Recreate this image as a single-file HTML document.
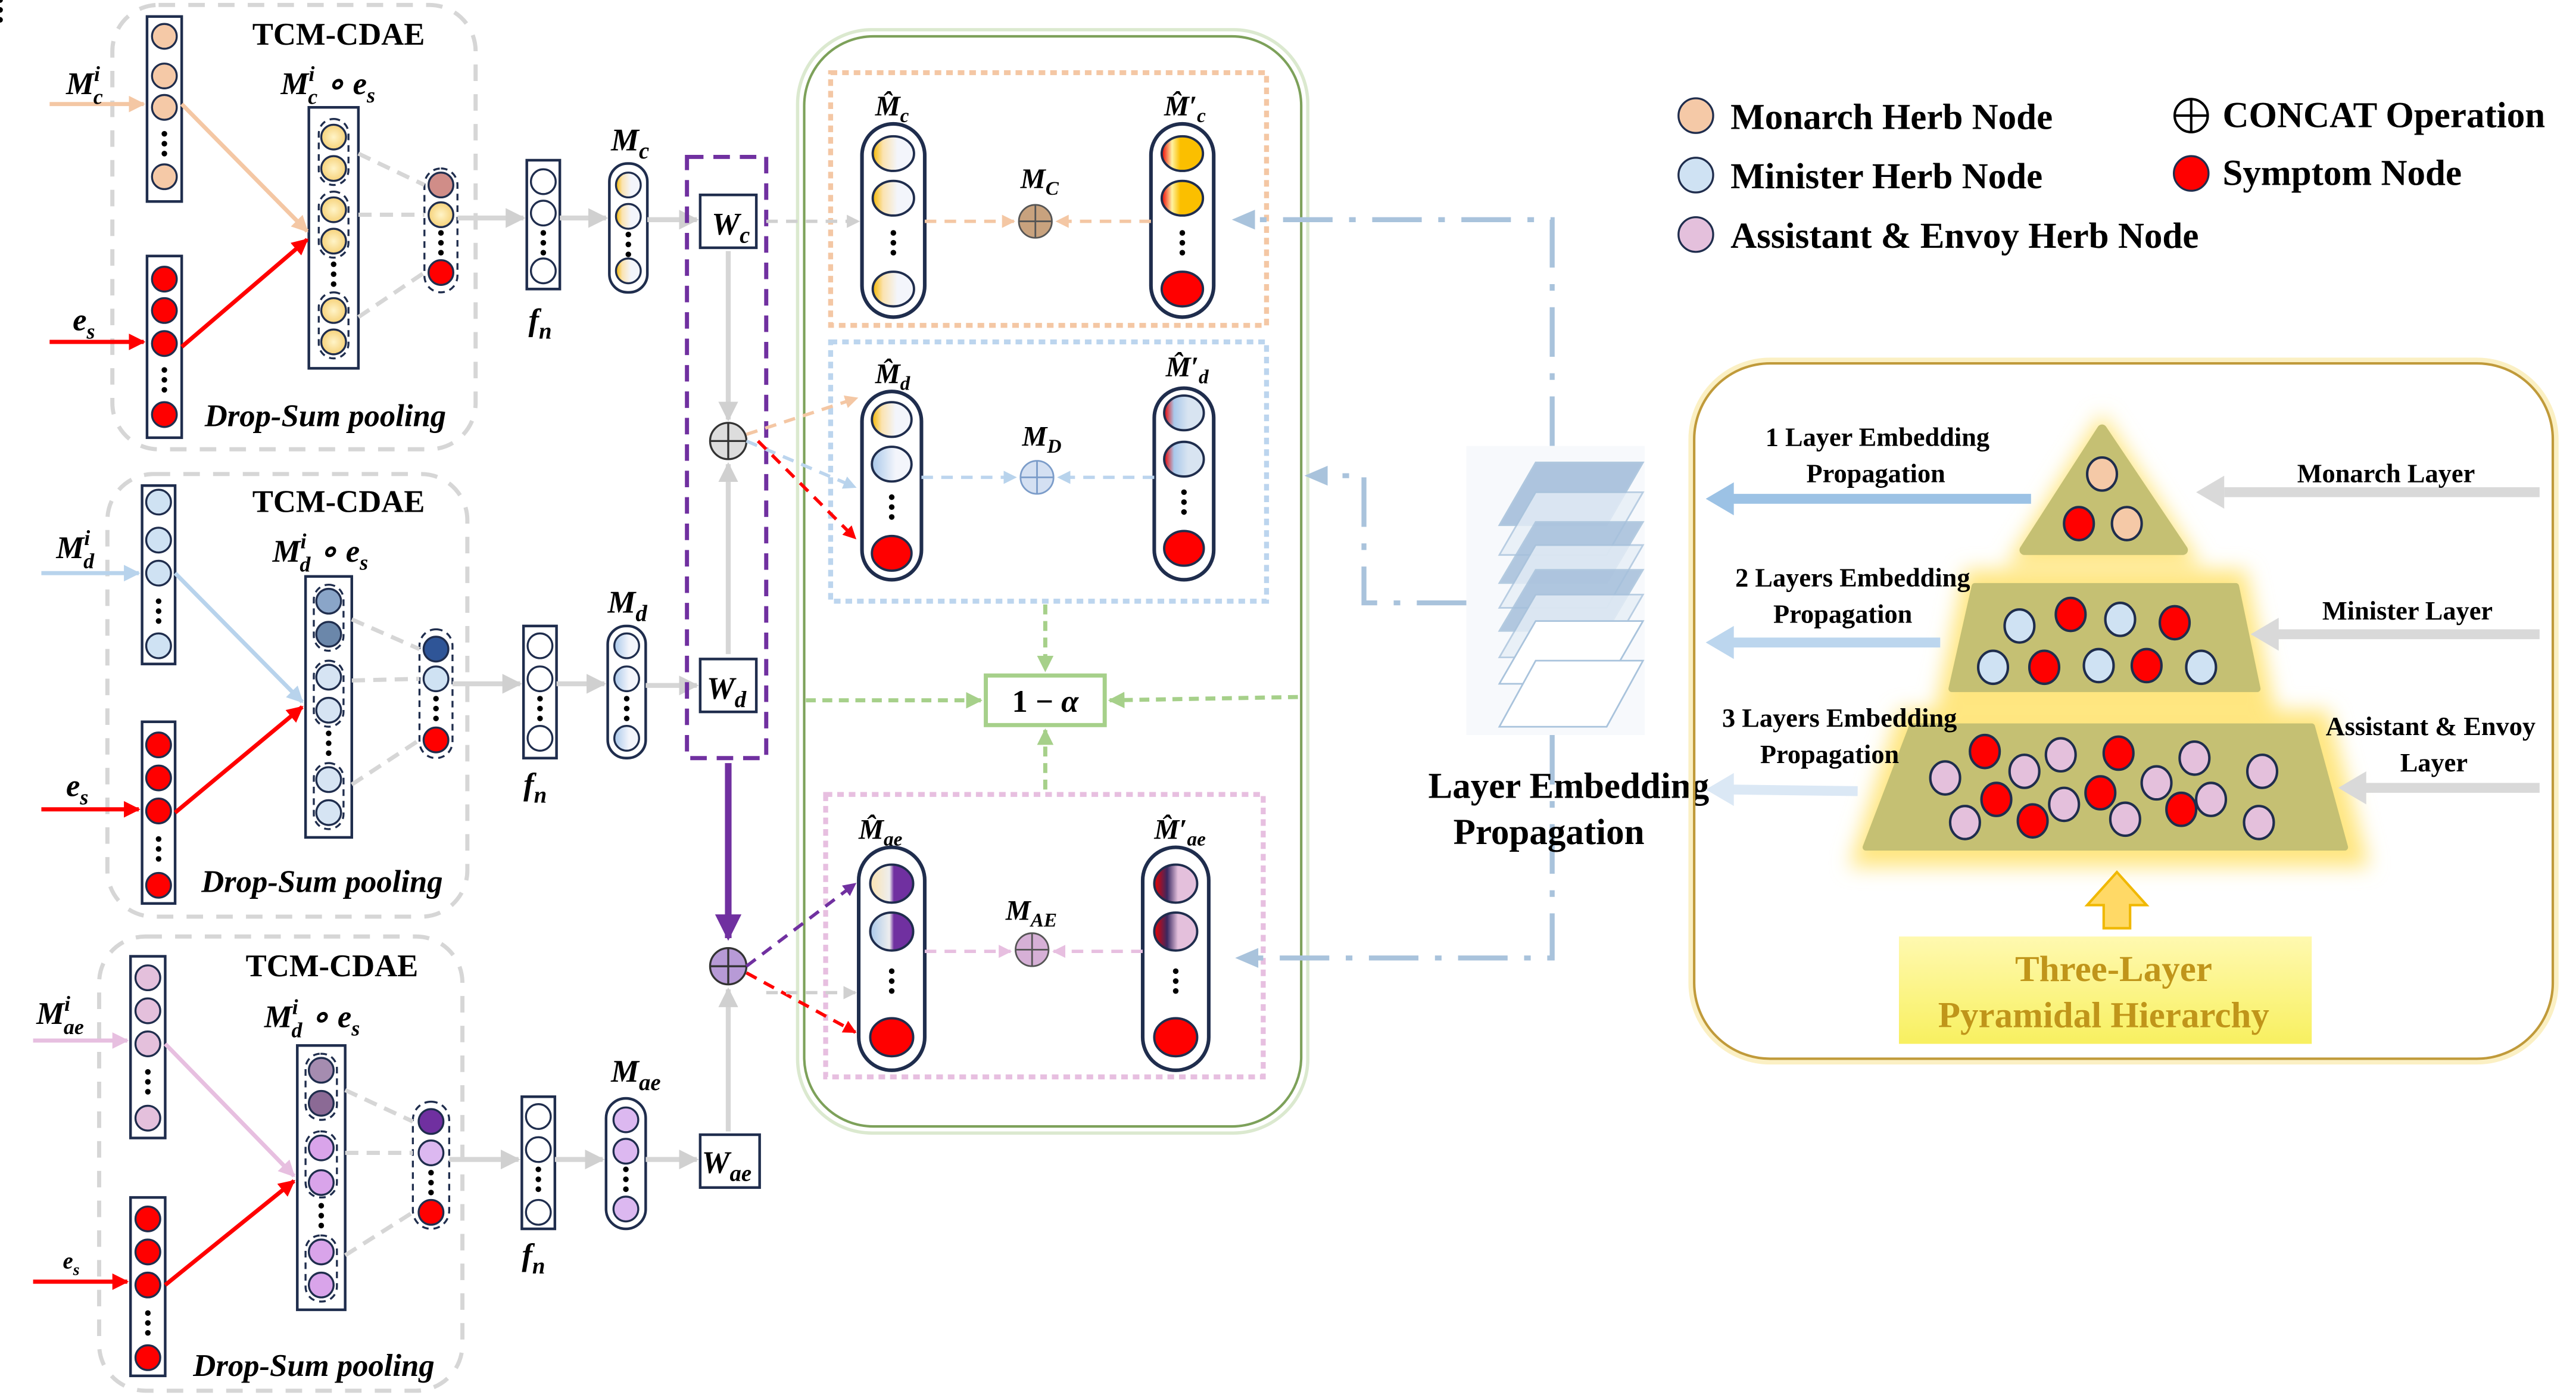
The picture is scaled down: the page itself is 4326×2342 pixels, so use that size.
<!DOCTYPE html>
<html><head><meta charset="utf-8"><style>
html,body{margin:0;padding:0;background:#fff;}
svg{display:block;}
text{font-family:"Liberation Serif",serif;font-weight:bold;}
.it{font-style:italic;}
</style></head><body>
<svg width="4326" height="2342" viewBox="0 0 1560 844.6" xmlns="http://www.w3.org/2000/svg">
<defs>
<linearGradient id="gy" x1="0" x2="1"><stop offset="0" stop-color="#f5b800"/><stop offset="0.25" stop-color="#fbe3b0"/><stop offset="0.6" stop-color="#f3f5fb"/></linearGradient>
<linearGradient id="gb" x1="0" x2="1"><stop offset="0" stop-color="#a9c8ea"/><stop offset="0.6" stop-color="#f3f5fb"/></linearGradient>
<linearGradient id="go" x1="0" x2="1"><stop offset="0" stop-color="#e00"/><stop offset="0.25" stop-color="#fff2a0"/><stop offset="0.45" stop-color="#fbbf00"/></linearGradient>
<linearGradient id="gbr" x1="0" x2="1"><stop offset="0" stop-color="#e00"/><stop offset="0.25" stop-color="#a9c8ea"/><stop offset="0.6" stop-color="#d8e4f1"/></linearGradient>
<linearGradient id="gpy" x1="0" x2="1"><stop offset="0" stop-color="#fbe3b0"/><stop offset="0.45" stop-color="#eee"/><stop offset="0.55" stop-color="#7030a0"/></linearGradient>
<linearGradient id="gpb" x1="0" x2="1"><stop offset="0" stop-color="#a9c8ea"/><stop offset="0.45" stop-color="#eee"/><stop offset="0.55" stop-color="#7030a0"/></linearGradient>
<linearGradient id="gpr" x1="0" x2="1"><stop offset="0" stop-color="#e00"/><stop offset="0.3" stop-color="#3a2860"/><stop offset="0.55" stop-color="#e4c0dc"/></linearGradient>
<radialGradient id="ry"><stop offset="0" stop-color="#fff4c8"/><stop offset="1" stop-color="#f6d27a"/></radialGradient>
<linearGradient id="gt" x1="0" y1="0" x2="0" y2="1"><stop offset="0" stop-color="#fff9b0"/><stop offset="1" stop-color="#f8f060"/></linearGradient>
<filter id="glow" x="-20%" y="-20%" width="140%" height="140%"><feGaussianBlur stdDeviation="6"/></filter>
<marker id="ag" viewBox="0 0 10 10" refX="9" refY="5" markerWidth="4" markerHeight="4" orient="auto"><path d="M0,0L10,5L0,10z" fill="#d0d0d0"/></marker>
<marker id="ap" viewBox="0 0 10 10" refX="9" refY="5" markerWidth="4" markerHeight="4" orient="auto"><path d="M0,0L10,5L0,10z" fill="#f4c7a4"/></marker>
<marker id="ar" viewBox="0 0 10 10" refX="9" refY="5" markerWidth="4" markerHeight="4" orient="auto"><path d="M0,0L10,5L0,10z" fill="#f00"/></marker>
<marker id="ab" viewBox="0 0 10 10" refX="9" refY="5" markerWidth="4" markerHeight="4" orient="auto"><path d="M0,0L10,5L0,10z" fill="#b8d3ec"/></marker>
<marker id="apk" viewBox="0 0 10 10" refX="9" refY="5" markerWidth="4" markerHeight="4" orient="auto"><path d="M0,0L10,5L0,10z" fill="#e7bfe0"/></marker>
<marker id="agr" viewBox="0 0 10 10" refX="9" refY="5" markerWidth="4" markerHeight="4" orient="auto"><path d="M0,0L10,5L0,10z" fill="#a6d08a"/></marker>
<marker id="apu" viewBox="0 0 10 10" refX="9" refY="5" markerWidth="4" markerHeight="4" orient="auto"><path d="M0,0L10,5L0,10z" fill="#7030a0"/></marker>
</defs>

<g fill="none" stroke="#d6d6d6" stroke-width="2.5" stroke-dasharray="10,8">
<rect x="68" y="3" width="220" height="269" rx="28"/>
<rect x="65" y="287" width="218" height="268" rx="28"/>
<rect x="60" y="567" width="220" height="275" rx="28"/>
</g>
<g font-size="19" text-anchor="middle">
<text x="205" y="27">TCM-CDAE</text>
<text x="205" y="310">TCM-CDAE</text>
<text x="201" y="591">TCM-CDAE</text>
</g>
<g font-size="19" text-anchor="middle">
<text x="197" y="258" class="it">Drop-Sum pooling</text>
<text x="195" y="540" class="it">Drop-Sum pooling</text>
<text x="190" y="833" class="it">Drop-Sum pooling</text>
</g>

<g stroke="#1f2d4d" stroke-width="1.6">
<rect x="89" y="10" width="21" height="112" fill="#fff"/>
<rect x="89" y="155" width="21" height="110" fill="#fff"/>
<rect x="187" y="65" width="30" height="158" fill="#fff"/>
<rect x="319" y="97" width="20" height="78" fill="#fff"/>
<rect x="369" y="99" width="23" height="78" rx="11" fill="#fff"/>
<rect x="424" y="118" width="34" height="32" fill="#fff"/>
</g>
<g stroke="#1f2d4d" stroke-width="1.2">
<g fill="#f5c9a7"><circle cx="99.5" cy="22" r="7.5"/><circle cx="99.5" cy="46" r="7.5"/><circle cx="99.5" cy="65" r="7.5"/><circle cx="99.5" cy="107" r="7.5"/></g>
<g fill="#f00"><circle cx="99.5" cy="169" r="7.5"/><circle cx="99.5" cy="188" r="7.5"/><circle cx="99.5" cy="208" r="7.5"/><circle cx="99.5" cy="251" r="7.5"/></g>
<g fill="url(#ry)"><circle cx="202" cy="83" r="7.5"/><circle cx="202" cy="102" r="7.5"/><circle cx="202" cy="127" r="7.5"/><circle cx="202" cy="146" r="7.5"/><circle cx="202" cy="188" r="7.5"/><circle cx="202" cy="207" r="7.5"/></g>
<g fill="#fff"><circle cx="329" cy="110" r="7.5"/><circle cx="329" cy="129" r="7.5"/><circle cx="329" cy="164" r="7.5"/></g>
<g fill="url(#gy)"><circle cx="380.5" cy="112" r="7.5"/><circle cx="380.5" cy="131" r="7.5"/><circle cx="380.5" cy="164" r="7.5"/></g>
<circle cx="267" cy="112" r="7.5" fill="#d08d88"/><circle cx="267" cy="130" r="7.5" fill="url(#ry)"/><circle cx="267" cy="165" r="7.5" fill="#f00"/>
</g>
<g fill="none" stroke="#1f2d4d" stroke-width="1.2" stroke-dasharray="4,3">
<rect x="193" y="72" width="18" height="40" rx="9"/><rect x="193" y="116" width="18" height="40" rx="9"/><rect x="193" y="177" width="18" height="40" rx="9"/>
<rect x="257" y="102" width="20" height="75" rx="10"/>
</g>

<g stroke="#1f2d4d" stroke-width="1.6">
<rect x="86" y="294" width="20" height="108" fill="#fff"/>
<rect x="86" y="437" width="20" height="110" fill="#fff"/>
<rect x="185" y="349" width="28" height="158" fill="#fff"/>
<rect x="317" y="379" width="20" height="80" fill="#fff"/>
<rect x="368" y="379" width="23" height="80" rx="11" fill="#fff"/>
<rect x="424" y="399" width="34" height="32" fill="#fff"/>
</g>
<g stroke="#1f2d4d" stroke-width="1.2">
<g fill="#cfe2f3"><circle cx="96" cy="304" r="7.5"/><circle cx="96" cy="327" r="7.5"/><circle cx="96" cy="347" r="7.5"/><circle cx="96" cy="391" r="7.5"/></g>
<g fill="#f00"><circle cx="96" cy="451" r="7.5"/><circle cx="96" cy="471" r="7.5"/><circle cx="96" cy="491" r="7.5"/><circle cx="96" cy="536" r="7.5"/></g>
<circle cx="199" cy="364" r="7.5" fill="#8aa5c8"/><circle cx="199" cy="384" r="7.5" fill="#6b87aa"/>
<g fill="#d6e4f3"><circle cx="199" cy="410" r="7.5"/><circle cx="199" cy="430" r="7.5"/><circle cx="199" cy="472" r="7.5"/><circle cx="199" cy="492" r="7.5"/></g>
<g fill="#fff"><circle cx="327" cy="391" r="7.5"/><circle cx="327" cy="411" r="7.5"/><circle cx="327" cy="447" r="7.5"/></g>
<g fill="url(#gb)"><circle cx="379.5" cy="391" r="7.5"/><circle cx="379.5" cy="411" r="7.5"/><circle cx="379.5" cy="447" r="7.5"/></g>
<circle cx="264" cy="393" r="7.5" fill="#2f5597"/><circle cx="264" cy="411" r="7.5" fill="#cfe2f3"/><circle cx="264" cy="448" r="7.5" fill="#f00"/>
</g>
<g fill="none" stroke="#1f2d4d" stroke-width="1.2" stroke-dasharray="4,3">
<rect x="190" y="354" width="18" height="40" rx="9"/><rect x="190" y="400" width="18" height="40" rx="9"/><rect x="190" y="462" width="18" height="40" rx="9"/>
<rect x="254" y="381" width="20" height="78" rx="10"/>
</g>

<g stroke="#1f2d4d" stroke-width="1.6">
<rect x="79" y="579" width="21" height="110" fill="#fff"/>
<rect x="79" y="725" width="21" height="108" fill="#fff"/>
<rect x="180" y="633" width="29" height="160" fill="#fff"/>
<rect x="316" y="664" width="20" height="80" fill="#fff"/>
<rect x="367" y="665" width="24" height="79" rx="12" fill="#fff"/>
<rect x="424" y="687" width="36" height="32" fill="#fff"/>
</g>
<g stroke="#1f2d4d" stroke-width="1.2">
<g fill="#e4c0dc"><circle cx="89.5" cy="592" r="7.5"/><circle cx="89.5" cy="612" r="7.5"/><circle cx="89.5" cy="632" r="7.5"/><circle cx="89.5" cy="677" r="7.5"/></g>
<g fill="#f00"><circle cx="89.5" cy="738" r="7.5"/><circle cx="89.5" cy="758" r="7.5"/><circle cx="89.5" cy="778" r="7.5"/><circle cx="89.5" cy="822" r="7.5"/></g>
<circle cx="194.5" cy="648" r="7.5" fill="#a58cb0"/><circle cx="194.5" cy="668" r="7.5" fill="#8b6a95"/>
<g fill="#d9a4ea"><circle cx="194.5" cy="695" r="7.5"/><circle cx="194.5" cy="716" r="7.5"/><circle cx="194.5" cy="758" r="7.5"/><circle cx="194.5" cy="778" r="7.5"/></g>
<g fill="#fff"><circle cx="326" cy="676" r="7.5"/><circle cx="326" cy="696" r="7.5"/><circle cx="326" cy="734" r="7.5"/></g>
<g fill="#dcb8f0"><circle cx="379" cy="678" r="7.5"/><circle cx="379" cy="697" r="7.5"/><circle cx="379" cy="732" r="7.5"/></g>
<circle cx="261" cy="679" r="7.5" fill="#7030a0"/><circle cx="261" cy="698" r="7.5" fill="#dcb8f0"/><circle cx="261" cy="734" r="7.5" fill="#f00"/>
</g>
<g fill="none" stroke="#1f2d4d" stroke-width="1.2" stroke-dasharray="4,3">
<rect x="185" y="638" width="19" height="40" rx="9"/><rect x="185" y="685" width="19" height="40" rx="9"/><rect x="185" y="748" width="19" height="40" rx="9"/>
<rect x="250" y="667" width="22" height="77" rx="11"/>
</g>

<g fill="#000">
<g id="d3"><circle cx="0" cy="0" r="1.7"/><circle cx="0" cy="6" r="1.7"/><circle cx="0" cy="12" r="1.7"/></g>
</g>
<g fill="#000">
<use href="#d3" x="99.5" y="81"/><use href="#d3" x="99.5" y="224"/><use href="#d3" x="202" y="160"/><use href="#d3" x="267" y="141"/><use href="#d3" x="329" y="141"/><use href="#d3" x="380.5" y="142"/>
<use href="#d3" x="96" y="364"/><use href="#d3" x="96" y="508"/><use href="#d3" x="199" y="444"/><use href="#d3" x="264" y="423"/><use href="#d3" x="327" y="423"/><use href="#d3" x="379.5" y="423"/>
<use href="#d3" x="89.5" y="649"/><use href="#d3" x="89.5" y="795"/><use href="#d3" x="194.5" y="730"/><use href="#d3" x="261" y="710"/><use href="#d3" x="326" y="708"/><use href="#d3" x="379" y="708"/>
</g>

<g stroke-width="2.5" fill="none">
<line x1="30" y1="63" x2="87" y2="63" stroke="#f4c7a4" marker-end="url(#ap)"/>
<line x1="110" y1="63" x2="186" y2="140" stroke="#f4c7a4" marker-end="url(#ap)"/>
<line x1="30" y1="207" x2="87" y2="207" stroke="#f00" marker-end="url(#ar)"/>
<line x1="110" y1="210" x2="186" y2="145" stroke="#f00" marker-end="url(#ar)"/>
<line x1="25" y1="347" x2="84" y2="347" stroke="#b8d3ec" marker-end="url(#ab)"/>
<line x1="106" y1="347" x2="183" y2="425" stroke="#b8d3ec" marker-end="url(#ab)"/>
<line x1="25" y1="490" x2="84" y2="490" stroke="#f00" marker-end="url(#ar)"/>
<line x1="106" y1="492" x2="183" y2="428" stroke="#f00" marker-end="url(#ar)"/>
<line x1="20" y1="630" x2="77" y2="630" stroke="#e7bfe0" marker-end="url(#apk)"/>
<line x1="100" y1="632" x2="178" y2="712" stroke="#e7bfe0" marker-end="url(#apk)"/>
<line x1="20" y1="776" x2="77" y2="776" stroke="#f00" marker-end="url(#ar)"/>
<line x1="100" y1="778" x2="178" y2="715" stroke="#f00" marker-end="url(#ar)"/>
</g>
<g stroke="#d6d6d6" stroke-width="2.5" stroke-dasharray="8,5" fill="none">
<line x1="217" y1="93" x2="257" y2="112"/><line x1="217" y1="130" x2="257" y2="130"/><line x1="217" y1="192" x2="257" y2="165"/>
<line x1="213" y1="375" x2="254" y2="393"/><line x1="213" y1="412" x2="254" y2="411"/><line x1="213" y1="475" x2="254" y2="448"/>
<line x1="209" y1="660" x2="250" y2="679"/><line x1="209" y1="698" x2="250" y2="698"/><line x1="209" y1="760" x2="250" y2="734"/>
</g>
<g stroke="#d6d6d6" stroke-width="3" fill="none">
<line x1="277" y1="132" x2="317" y2="132" marker-end="url(#ag)"/><line x1="339" y1="132" x2="367" y2="132" marker-end="url(#ag)"/><line x1="392" y1="133" x2="422" y2="133" marker-end="url(#ag)"/>
<line x1="274" y1="414" x2="315" y2="414" marker-end="url(#ag)"/><line x1="337" y1="414" x2="366" y2="414" marker-end="url(#ag)"/><line x1="391" y1="415" x2="422" y2="415" marker-end="url(#ag)"/>
<line x1="272" y1="702" x2="314" y2="702" marker-end="url(#ag)"/><line x1="336" y1="702" x2="365" y2="702" marker-end="url(#ag)"/><line x1="391" y1="702" x2="422" y2="702" marker-end="url(#ag)"/>
<line x1="441" y1="152" x2="441" y2="254" marker-end="url(#ag)"/>
<line x1="441" y1="396" x2="441" y2="281" marker-end="url(#ag)"/>
<line x1="441" y1="685" x2="441" y2="599" marker-end="url(#ag)"/>
</g>

<g font-size="19">
<text x="40" y="57" class="it">M<tspan font-size="13" dy="-8">i</tspan><tspan font-size="13" dx="-4" dy="14">c</tspan></text>
<text x="44" y="200" class="it">e<tspan font-size="13" dy="5">s</tspan></text>
<text x="170" y="57" class="it">M<tspan font-size="13" dy="-8">i</tspan><tspan font-size="13" dx="-4" dy="14">c</tspan><tspan dy="-6"> ∘ e</tspan><tspan font-size="13" dy="5">s</tspan></text>
<text x="370" y="91" class="it">M<tspan font-size="14" dy="5">c</tspan></text>
<text x="320" y="200" class="it">f<tspan font-size="14" dy="5">n</tspan></text>
<text x="431" y="142" class="it">W<tspan font-size="14" dy="5">c</tspan></text>
<text x="34" y="338" class="it">M<tspan font-size="13" dy="-8">i</tspan><tspan font-size="13" dx="-4" dy="14">d</tspan></text>
<text x="40" y="482" class="it">e<tspan font-size="13" dy="5">s</tspan></text>
<text x="165" y="340" class="it">M<tspan font-size="13" dy="-8">i</tspan><tspan font-size="13" dx="-4" dy="14">d</tspan><tspan dy="-6"> ∘ e</tspan><tspan font-size="13" dy="5">s</tspan></text>
<text x="368" y="371" class="it">M<tspan font-size="14" dy="5">d</tspan></text>
<text x="317" y="481" class="it">f<tspan font-size="14" dy="5">n</tspan></text>
<text x="428" y="423" class="it">W<tspan font-size="14" dy="5">d</tspan></text>
<text x="22" y="620" class="it">M<tspan font-size="13" dy="-8">i</tspan><tspan font-size="13" dx="-4" dy="14">ae</tspan></text>
<text x="38" y="768" font-size="14" class="it">e<tspan font-size="10" dy="4">s</tspan></text>
<text x="160" y="622" class="it">M<tspan font-size="13" dy="-8">i</tspan><tspan font-size="13" dx="-4" dy="14">d</tspan><tspan dy="-6"> ∘ e</tspan><tspan font-size="13" dy="5">s</tspan></text>
<text x="370" y="655" class="it">M<tspan font-size="14" dy="5">ae</tspan></text>
<text x="316" y="766" class="it">f<tspan font-size="14" dy="5">n</tspan></text>
<text x="425" y="710" class="it">W<tspan font-size="14" dy="5">ae</tspan></text>
</g>

<rect x="416" y="95" width="48" height="364" fill="none" stroke="#7030a0" stroke-width="2.5" stroke-dasharray="10,6"/>
<line x1="441" y1="462" x2="441" y2="568" stroke="#7030a0" stroke-width="4" marker-end="url(#apu)"/>
<g stroke="#333" stroke-width="1.2">
<circle cx="441" cy="267" r="11" fill="#ddd"/><line x1="430" y1="267" x2="452" y2="267"/><line x1="441" y1="256" x2="441" y2="278"/>
<circle cx="441" cy="585" r="11" fill="#b79ad6"/><line x1="430" y1="585" x2="452" y2="585"/><line x1="441" y1="574" x2="441" y2="596"/>
</g>

<rect x="483" y="18" width="309" height="668" rx="45" fill="none" stroke="#dbe9cf" stroke-width="2"/>
<rect x="487" y="22" width="301" height="660" rx="42" fill="none" stroke="#7da15a" stroke-width="1.5"/>

<rect x="503" y="44" width="264" height="153" fill="none" stroke="#f4c7a4" stroke-width="3" stroke-dasharray="4,3"/>
<rect x="503" y="207" width="264" height="157" fill="none" stroke="#bcd5ee" stroke-width="3" stroke-dasharray="4,3"/>
<rect x="500" y="481" width="265" height="171" fill="none" stroke="#e7bfe0" stroke-width="3" stroke-dasharray="4,3"/>

<g stroke="#1f2d4d" stroke-width="2.2" fill="#fff">
<rect x="522" y="75" width="38" height="117" rx="19"/><rect x="697" y="75" width="38" height="117" rx="19"/>
<rect x="522" y="237" width="36" height="114" rx="18"/><rect x="699" y="235" width="36" height="116" rx="18"/>
<rect x="520" y="513" width="40" height="135" rx="20"/><rect x="692" y="513" width="40" height="135" rx="20"/>
</g>
<g stroke="#1f2d4d" stroke-width="1.4">
<ellipse cx="541" cy="93" rx="12.5" ry="10.5" fill="url(#gy)"/><ellipse cx="541" cy="120" rx="12.5" ry="10.5" fill="url(#gy)"/><ellipse cx="541" cy="175" rx="12.5" ry="10.5" fill="url(#gy)"/>
<ellipse cx="716" cy="93" rx="12.5" ry="10.5" fill="url(#go)"/><ellipse cx="716" cy="120" rx="12.5" ry="10.5" fill="url(#go)"/><ellipse cx="716" cy="175" rx="12.5" ry="10.5" fill="#f00"/>
<ellipse cx="540" cy="254" rx="12" ry="10.5" fill="url(#gy)"/><ellipse cx="540" cy="281" rx="12" ry="10.5" fill="url(#gb)"/><ellipse cx="540" cy="335" rx="12" ry="10.5" fill="#f00"/>
<ellipse cx="717" cy="250" rx="12" ry="10.5" fill="url(#gbr)"/><ellipse cx="717" cy="278" rx="12" ry="10.5" fill="url(#gbr)"/><ellipse cx="717" cy="332" rx="12" ry="10.5" fill="#f00"/>
<ellipse cx="540" cy="535" rx="13" ry="11.5" fill="url(#gpy)"/><ellipse cx="540" cy="564" rx="13" ry="11.5" fill="url(#gpb)"/><ellipse cx="540" cy="628" rx="13" ry="11.5" fill="#f00"/>
<ellipse cx="712" cy="535" rx="13" ry="11.5" fill="url(#gpr)"/><ellipse cx="712" cy="564" rx="13" ry="11.5" fill="url(#gpr)"/><ellipse cx="712" cy="628" rx="13" ry="11.5" fill="#f00"/>
</g>
<g fill="#000">
<use href="#d3" x="541" y="141"/><use href="#d3" x="716" y="141"/><use href="#d3" x="540" y="301"/><use href="#d3" x="717" y="298"/><use href="#d3" x="540" y="588"/><use href="#d3" x="712" y="588"/>
</g>
<g stroke="#555" stroke-width="1">
<circle cx="627" cy="134" r="10" fill="#c8a27e"/><line x1="617" y1="134" x2="637" y2="134"/><line x1="627" y1="124" x2="627" y2="144"/>
<circle cx="628" cy="289" r="10" fill="#d4e0f2" stroke="#7b9cc9"/><line x1="618" y1="289" x2="638" y2="289" stroke="#7b9cc9"/><line x1="628" y1="279" x2="628" y2="299" stroke="#7b9cc9"/>
<circle cx="625" cy="575" r="10" fill="#d6b0d6"/><line x1="615" y1="575" x2="635" y2="575"/><line x1="625" y1="565" x2="625" y2="585"/>
</g>
<g stroke-width="2" stroke-dasharray="7,5" fill="none">
<line x1="560" y1="134" x2="614" y2="134" stroke="#f4c7a4" marker-end="url(#ap)"/>
<line x1="697" y1="134" x2="640" y2="134" stroke="#f4c7a4" marker-end="url(#ap)"/>
<line x1="558" y1="289" x2="615" y2="289" stroke="#bcd5ee" marker-end="url(#ab)"/>
<line x1="699" y1="289" x2="641" y2="289" stroke="#bcd5ee" marker-end="url(#ab)"/>
<line x1="560" y1="576" x2="612" y2="576" stroke="#e7bfe0" marker-end="url(#apk)"/>
<line x1="692" y1="576" x2="638" y2="576" stroke="#e7bfe0" marker-end="url(#apk)"/>
<line x1="464" y1="134" x2="520" y2="134" stroke="#d0d0d0" marker-end="url(#ag)"/>
<line x1="452" y1="263" x2="519" y2="241" stroke="#f4c7a4" marker-end="url(#ap)"/>
<line x1="452" y1="267" x2="518" y2="295" stroke="#bcd5ee" marker-end="url(#ab)"/>
<line x1="452" y1="585" x2="518" y2="535" stroke="#7030a0" marker-end="url(#apu)"/>
<line x1="452" y1="589" x2="518" y2="625" stroke="#f00" marker-end="url(#ar)"/>
<line x1="459" y1="267" x2="518" y2="326" stroke="#f00" marker-end="url(#ar)"/>
</g>
<line x1="464" y1="601" x2="518" y2="601" stroke="#d0d0d0" stroke-width="2" stroke-dasharray="7,5" marker-end="url(#ag)"/>

<rect x="597" y="409" width="72" height="30" fill="#fff" stroke="#a6d08a" stroke-width="2.5"/>
<text x="633" y="431" font-size="19" text-anchor="middle">1 − <tspan class="it">α</tspan></text>
<g stroke="#a6d08a" stroke-width="2.5" stroke-dasharray="6,4" fill="none">
<line x1="633" y1="366" x2="633" y2="406" marker-end="url(#agr)"/>
<line x1="633" y1="478" x2="633" y2="442" marker-end="url(#agr)"/>
<line x1="488" y1="424" x2="594" y2="424" marker-end="url(#agr)"/>
<line x1="786" y1="422" x2="672" y2="424" marker-end="url(#agr)"/>
</g>

<g font-size="17">
<text x="530" y="70" class="it">M̂<tspan font-size="12" dy="4">c</tspan></text>
<text x="705" y="70" class="it">M̂′<tspan font-size="12" dy="4">c</tspan></text>
<text x="618" y="114" class="it">M<tspan font-size="12" dy="4">C</tspan></text>
<text x="530" y="232" class="it">M̂<tspan font-size="12" dy="4">d</tspan></text>
<text x="706" y="228" class="it">M̂′<tspan font-size="12" dy="4">d</tspan></text>
<text x="619" y="270" class="it">M<tspan font-size="12" dy="4">D</tspan></text>
<text x="520" y="508" class="it">M̂<tspan font-size="12" dy="4">ae</tspan></text>
<text x="699" y="508" class="it">M̂′<tspan font-size="12" dy="4">ae</tspan></text>
<text x="609" y="557" class="it">M<tspan font-size="12" dy="4">AE</tspan></text>
</g>

<g stroke="#a9c3dc" stroke-width="3" fill="none" stroke-dasharray="30,10,4,10">
<polyline points="940,270 940,133 750,133"/>
<polyline points="940,445 940,580 752,580"/>
<polyline points="888,365 826,365 826,288 795,288"/>
</g>
<g fill="#a9c3dc">
<path d="M746,133 L760,127 L760,139z"/><path d="M748,580 L762,574 L762,586z"/><path d="M790,288 L804,282 L804,294z"/>
</g>

<rect x="888" y="270" width="108" height="175" fill="#f7f9fc"/>
<g stroke="#a9c3dc" stroke-width="1">
<polygon points="930,280 995,280 973,318 908,318" fill="#a5bfdb" opacity="0.9"/>
<polygon points="930,298 995,298 973,336 908,336" fill="#e6eef7" opacity="0.8"/>
<polygon points="930,316 995,316 973,353 908,353" fill="#a5bfdb" opacity="0.85"/>
<polygon points="930,330 995,330 973,368 908,368" fill="#e6eef7" opacity="0.8"/>
<polygon points="930,345 995,345 973,382 908,382" fill="#a5bfdb" opacity="0.85"/>
<polygon points="930,360 995,360 973,398 908,398" fill="#e6eef7" opacity="0.8"/>
<polygon points="930,376 995,376 973,414 908,414" fill="#fff"/>
<polygon points="930,400 995,400 973,440 908,440" fill="#fff"/>
</g>
<g font-size="22" text-anchor="middle"><text x="950" y="483">Layer Embedding</text><text x="938" y="511">Propagation</text></g>

<g stroke="#1f2d4d" stroke-width="1.2">
<circle cx="1027" cy="70" r="10.5" fill="#f5c9a7"/><circle cx="1027" cy="106" r="10.5" fill="#cfe2f3"/><circle cx="1027" cy="142" r="10.5" fill="#e4c0dc"/>
<circle cx="1327" cy="105" r="10.5" fill="#f00"/>
<circle cx="1327" cy="70" r="10" fill="#fff" stroke="#000" stroke-width="1.5"/><line x1="1317" y1="70" x2="1337" y2="70" stroke="#000" stroke-width="1.5"/><line x1="1327" y1="60" x2="1327" y2="80" stroke="#000" stroke-width="1.5"/>
</g>
<g font-size="22">
<text x="1048" y="78">Monarch Herb Node</text><text x="1048" y="114">Minister Herb Node</text><text x="1048" y="150">Assistant &amp; Envoy Herb Node</text>
<text x="1346" y="77">CONCAT Operation</text><text x="1346" y="112">Symptom Node</text>
</g>

<rect x="1024" y="218" width="524" height="425" rx="48" fill="none" stroke="#fbf0c4" stroke-width="3"/>
<rect x="1026" y="220" width="520" height="421" rx="46" fill="none" stroke="#c09a3a" stroke-width="1.5"/>
<g fill="#ffe680" filter="url(#glow)">
<polygon points="1273,250 1333,342 1215,342"/>
<polygon points="1190,345 1360,345 1378,430 1172,430"/>
<polygon points="1150,430 1410,430 1435,525 1120,525"/>
</g>
<g fill="#c5c073">
<polygon points="1273,260 1322,333 1226,333" stroke="#c5c073" stroke-width="6" stroke-linejoin="round"/>
<polygon points="1196,355 1354,355 1367,417 1182,417" stroke="#c5c073" stroke-width="4" stroke-linejoin="round"/>
<polygon points="1158,440 1400,440 1420,513 1130,513" stroke="#c5c073" stroke-width="4" stroke-linejoin="round"/>
</g>
<g stroke="#1f2d4d" stroke-width="1.5">
<ellipse cx="1273" cy="287" rx="9" ry="10" fill="#f5c9a7"/><ellipse cx="1259" cy="317" rx="9" ry="10" fill="#f00"/><ellipse cx="1288" cy="317" rx="9" ry="10" fill="#f5c9a7"/>
<g fill="#cfe2f3"><ellipse cx="1223" cy="379" rx="9" ry="10"/><ellipse cx="1284" cy="375" rx="9" ry="10"/><ellipse cx="1207" cy="404" rx="9" ry="10"/><ellipse cx="1271" cy="403" rx="9" ry="10"/><ellipse cx="1333" cy="404" rx="9" ry="10"/></g>
<g fill="#f00"><ellipse cx="1254" cy="372" rx="9" ry="10"/><ellipse cx="1317" cy="377" rx="9" ry="10"/><ellipse cx="1238" cy="404" rx="9" ry="10"/><ellipse cx="1300" cy="403" rx="9" ry="10"/></g>
<g fill="#e4c0dc"><ellipse cx="1178" cy="471" rx="9" ry="10"/><ellipse cx="1226" cy="467" rx="9" ry="10"/><ellipse cx="1248" cy="457" rx="9" ry="10"/><ellipse cx="1190" cy="498" rx="9" ry="10"/><ellipse cx="1250" cy="487" rx="9" ry="10"/><ellipse cx="1287" cy="496" rx="9" ry="10"/><ellipse cx="1306" cy="474" rx="9" ry="10"/><ellipse cx="1329" cy="459" rx="9" ry="10"/><ellipse cx="1339" cy="484" rx="9" ry="10"/><ellipse cx="1370" cy="467" rx="9" ry="10"/><ellipse cx="1368" cy="498" rx="9" ry="10"/></g>
<g fill="#f00"><ellipse cx="1202" cy="455" rx="9" ry="10"/><ellipse cx="1283" cy="456" rx="9" ry="10"/><ellipse cx="1209" cy="484" rx="9" ry="10"/><ellipse cx="1231" cy="497" rx="9" ry="10"/><ellipse cx="1272" cy="480" rx="9" ry="10"/><ellipse cx="1321" cy="490" rx="9" ry="10"/></g>
</g>
<g stroke-width="6" fill="none">
<line x1="1230" y1="302" x2="1046" y2="302" stroke="#9cc2e5"/>
<line x1="1175" y1="389" x2="1046" y2="389" stroke="#bcd6ee"/>
<line x1="1125" y1="479" x2="1046" y2="478" stroke="#dbe8f5"/>
<line x1="1538" y1="298" x2="1347" y2="298" stroke="#d9d9d9"/>
<line x1="1538" y1="384" x2="1378" y2="384" stroke="#d9d9d9"/>
<line x1="1538" y1="477" x2="1432" y2="477" stroke="#d9d9d9"/>
</g>
<g>
<path d="M1033,302 L1050,292 L1050,312z" fill="#9cc2e5"/><path d="M1033,389 L1050,379 L1050,399z" fill="#bcd6ee"/><path d="M1033,478 L1050,468 L1050,488z" fill="#dbe8f5"/>
<path d="M1330,298 L1347,288 L1347,308z" fill="#d9d9d9"/><path d="M1363,384 L1380,374 L1380,394z" fill="#d9d9d9"/><path d="M1416,477 L1433,467 L1433,487z" fill="#d9d9d9"/>
</g>
<g font-size="16" text-anchor="middle">
<text x="1137" y="270">1 Layer Embedding</text><text x="1136" y="292">Propagation</text>
<text x="1122" y="355">2 Layers Embedding</text><text x="1116" y="377">Propagation</text>
<text x="1114" y="440">3 Layers Embedding</text><text x="1108" y="462">Propagation</text>
<text x="1445" y="292">Monarch Layer</text>
<text x="1458" y="375">Minister Layer</text>
<text x="1472" y="445">Assistant &amp; Envoy</text><text x="1474" y="467">Layer</text>
</g>
<path d="M1282,528 L1300,548 L1290,548 L1290,562 L1274,562 L1274,548 L1264,548z" fill="#ffd966" stroke="#f0b800" stroke-width="1.5"/>
<rect x="1150" y="567" width="250" height="65" fill="url(#gt)"/>
<g font-size="22" text-anchor="middle" fill="#c0951a"><text x="1280" y="594">Three-Layer</text><text x="1274" y="622">Pyramidal Hierarchy</text></g>
</svg>
</body></html>
